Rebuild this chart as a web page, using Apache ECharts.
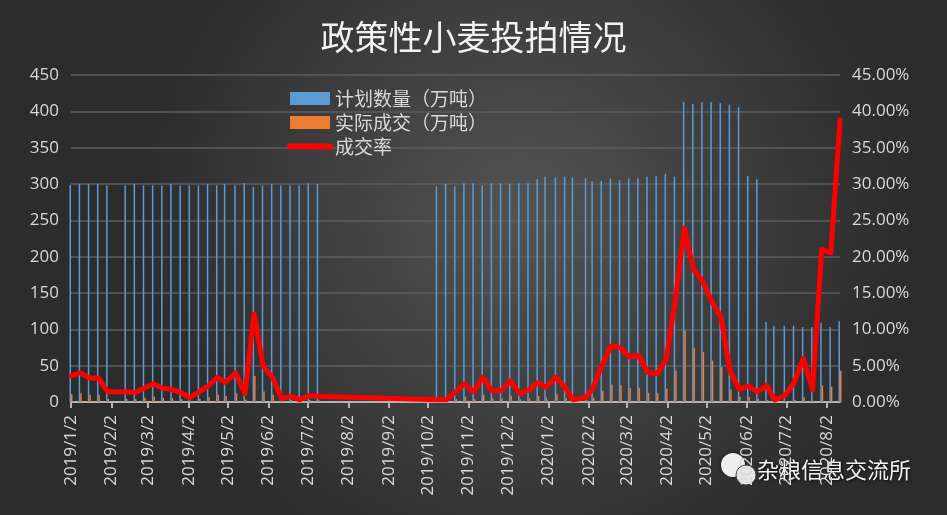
<!DOCTYPE html>
<html>
<head>
<meta charset="utf-8">
<script src="https://cdn.jsdelivr.net/npm/echarts@6/dist/echarts.min.js"></script>
<style>
  html, body { margin: 0; padding: 0; background: #333; }
  #chart { width: 947px; height: 515px; }
</style>
</head>
<body>
<div id="chart"></div>
<script>
// 投拍日期
const dates = [
  '2019/1/2', '2019/1/9', '2019/1/16', '2019/1/23', '2019/1/30', '2019/2/13', '2019/2/20', '2019/2/27',
  '2019/3/6', '2019/3/13', '2019/3/20', '2019/3/27', '2019/4/3', '2019/4/10', '2019/4/17', '2019/4/24',
  '2019/4/30', '2019/5/8', '2019/5/15', '2019/5/22', '2019/5/29', '2019/6/5', '2019/6/12', '2019/6/19',
  '2019/6/26', '2019/7/3', '2019/7/10',
  '2019/10/9', '2019/10/16', '2019/10/23', '2019/10/30', '2019/11/6', '2019/11/13', '2019/11/20',
  '2019/11/27', '2019/12/4', '2019/12/11', '2019/12/18', '2019/12/25', '2019/12/31',
  '2020/1/8', '2020/1/15', '2020/1/21', '2020/1/31', '2020/2/5', '2020/2/12', '2020/2/19', '2020/2/26',
  '2020/3/4', '2020/3/11', '2020/3/18', '2020/3/25', '2020/4/1', '2020/4/8', '2020/4/15', '2020/4/22',
  '2020/4/29', '2020/5/6', '2020/5/13', '2020/5/20', '2020/5/27', '2020/6/3', '2020/6/10', '2020/6/17',
  '2020/6/23', '2020/7/1', '2020/7/8', '2020/7/15', '2020/7/22', '2020/7/29', '2020/8/5', '2020/8/12'
];

// 计划数量（万吨）
const planned = [
  299, 300, 300, 300, 298, 298, 300, 298, 298, 298, 300, 298, 298, 298, 300, 298,
  300, 298, 301, 296, 298, 300, 298, 298, 298, 301, 300,
  297, 300, 297, 301, 301, 298, 301, 301, 300, 301, 301, 307, 310,
  309, 310, 309, 308, 304, 304, 307, 305, 308, 308, 310, 311, 314, 310, 413, 410,
  413, 413, 411, 409, 406, 311, 307, 110, 105, 105, 105, 103, 103, 109, 103, 111
];

// 实际成交（万吨）
const actual = [
  10.8, 12, 9.9, 9.9, 4.2, 4.2, 3.9, 5.7, 7.5, 5.7, 5.3, 3.9, 1.8, 4.2, 6.6, 10.1,
  8.1, 11.9, 3.3, 35.8, 14.6, 10.2, 1.5, 2.4, 0.9, 2.7, 2.4,
  0.9, 0.9, 4.2, 7.5, 4.2, 10.1, 4.7, 4.7, 8.7, 3.6, 5.0, 8.1, 6.2,
  10.5, 5.9, 0.9, 2.0, 5.8, 15.5, 23.6, 22.9, 19.1, 19.7, 12.7, 12.1, 18.2, 43.4, 98.7, 74.6,
  68.6, 57.0, 48.1, 17.2, 7.1, 6.8, 4.3, 2.5, 0.3, 0.9, 2.8, 6.2, 1.7, 22.9, 21.1, 43.1
];

// 成交率（%）
const rate = [
  3.6, 4.0, 3.3, 3.3, 1.4, 1.4, 1.3, 1.9, 2.5, 1.9, 1.75, 1.3, 0.6, 1.4, 2.2, 3.4,
  2.7, 4.0, 1.1, 12.1, 4.9, 3.4, 0.5, 0.8, 0.3, 0.9, 0.8,
  0.3, 0.3, 1.4, 2.5, 1.4, 3.4, 1.55, 1.55, 2.9, 1.2, 1.65, 2.65, 2.0,
  3.4, 1.9, 0.3, 0.65, 1.9, 5.1, 7.7, 7.5, 6.2, 6.4, 4.1, 3.9, 5.8, 14.0, 23.9, 18.2,
  16.6, 13.8, 11.7, 4.2, 1.75, 2.2, 1.4, 2.3, 0.3, 0.9, 2.7, 6.0, 1.65, 21.0, 20.5, 38.8
];

// x轴刻度
const tickLabels = [
  '2019/1/2', '2019/2/2', '2019/3/2', '2019/4/2', '2019/5/2', '2019/6/2', '2019/7/2',
  '2019/8/2', '2019/9/2', '2019/10/2', '2019/11/2', '2019/12/2', '2020/1/2', '2020/2/2',
  '2020/3/2', '2020/4/2', '2020/5/2', '2020/6/2', '2020/7/2', '2020/8/2'
];

function toTime(s) {
  const p = s.split('/').map(Number);
  return Date.UTC(p[0], p[1] - 1, p[2]);
}
function fmtTime(v) {
  const d = new Date(v);
  return d.getUTCFullYear() + '/' + (d.getUTCMonth() + 1) + '/' + d.getUTCDate();
}

const times = dates.map(toTime);
const tickValues = tickLabels.map(toTime);
const labelColor = '#d9d9d9';
const axisFont = 'Open Sans';

const myChart = echarts.init(document.getElementById('chart'));
myChart.setOption({
  backgroundColor: {
    type: 'radial',
    x: 0.55,
    y: 0.42,
    r: 0.75,
    colorStops: [
      { offset: 0, color: '#535353' },
      { offset: 1, color: '#2c2c2c' }
    ]
  },
  animation: false,
  title: {
    text: '政策性小麦投拍情况',
    left: 'center',
    top: 15,
    textStyle: {
      color: '#f2f2f2',
      fontSize: 34,
      fontWeight: 'normal',
      fontFamily: 'Noto Sans CJK SC'
    }
  },
  legend: {
    orient: 'vertical',
    left: 282,
    top: 84,
    itemWidth: 40,
    itemHeight: 13,
    itemGap: 5,
    textStyle: {
      color: labelColor,
      fontSize: 19,
      fontFamily: 'Noto Sans CJK SC'
    },
    data: [
      { name: '计划数量（万吨）', icon: 'rect' },
      { name: '实际成交（万吨）', icon: 'rect' },
      {
        name: '成交率',
        itemStyle: { opacity: 0 },
        lineStyle: { width: 6, color: '#ff0000', cap: 'round' }
      }
    ]
  },
  grid: {
    left: 71,
    right: 107,
    top: 75,
    bottom: 113
  },
  xAxis: {
    type: 'value',
    min: toTime('2019/1/2'),
    max: toTime('2020/8/12'),
    axisLine: { show: true, lineStyle: { color: '#b3b3b3', width: 2 } },
    axisTick: {
      show: true,
      length: 6,
      lineStyle: { color: '#b3b3b3', width: 2 },
      customValues: tickValues
    },
    axisLabel: {
      rotate: 90,
      margin: 13,
      color: labelColor,
      fontSize: 17,
      fontFamily: axisFont,
      customValues: tickValues,
      formatter: fmtTime
    },
    splitLine: { show: false }
  },
  yAxis: [
    {
      type: 'value',
      min: 0,
      max: 450,
      interval: 50,
      axisLine: { show: false },
      axisTick: { show: false },
      axisLabel: { color: labelColor, fontSize: 17, fontFamily: axisFont, margin: 12 },
      splitLine: { lineStyle: { color: '#5e5e5e', width: 1.5 } }
    },
    {
      type: 'value',
      min: 0,
      max: 45,
      interval: 5,
      axisLine: { show: false },
      axisTick: { show: false },
      axisLabel: {
        color: labelColor,
        fontSize: 17,
        fontFamily: axisFont,
        margin: 12,
        formatter: (v) => v.toFixed(2) + '%'
      },
      splitLine: { show: false }
    }
  ],
  series: [
    {
      name: '计划数量（万吨）',
      type: 'bar',
      barWidth: 1.5,
      barGap: '0%',
      itemStyle: { color: '#5b9bd5' },
      data: times.map((t, i) => [t, planned[i]])
    },
    {
      name: '实际成交（万吨）',
      type: 'bar',
      barWidth: 1.5,
      barGap: '0%',
      itemStyle: { color: '#ed7d31' },
      data: times.map((t, i) => [t, actual[i]])
    },
    {
      name: '成交率',
      type: 'line',
      yAxisIndex: 1,
      symbol: 'none',
      z: 5,
      itemStyle: { color: '#ff0000' },
      lineStyle: { color: '#ff0000', width: 5, cap: 'round', join: 'round' },
      data: times.map((t, i) => [t, rate[i]])
    }
  ],
  graphic: [
    {
      type: 'circle',
      shape: { cx: 733, cy: 465, r: 12 },
      style: { fill: '#eeeeee', shadowBlur: 4, shadowColor: 'rgba(0,0,0,0.6)' }
    },
    {
      type: 'circle',
      shape: { cx: 746, cy: 475, r: 10 },
      style: { fill: '#e6e6e6', stroke: '#444', lineWidth: 1 }
    },
    {
      type: 'text',
      left: 757,
      top: 459,
      style: {
        text: '杂粮信息交流所',
        fill: '#f2f2f2',
        fontSize: 22,
        fontFamily: 'Noto Sans CJK SC',
        textShadowColor: 'rgba(0,0,0,0.8)',
        textShadowBlur: 3,
        textShadowOffsetX: 1,
        textShadowOffsetY: 1
      }
    }
  ]
});
</script>
</body>
</html>
